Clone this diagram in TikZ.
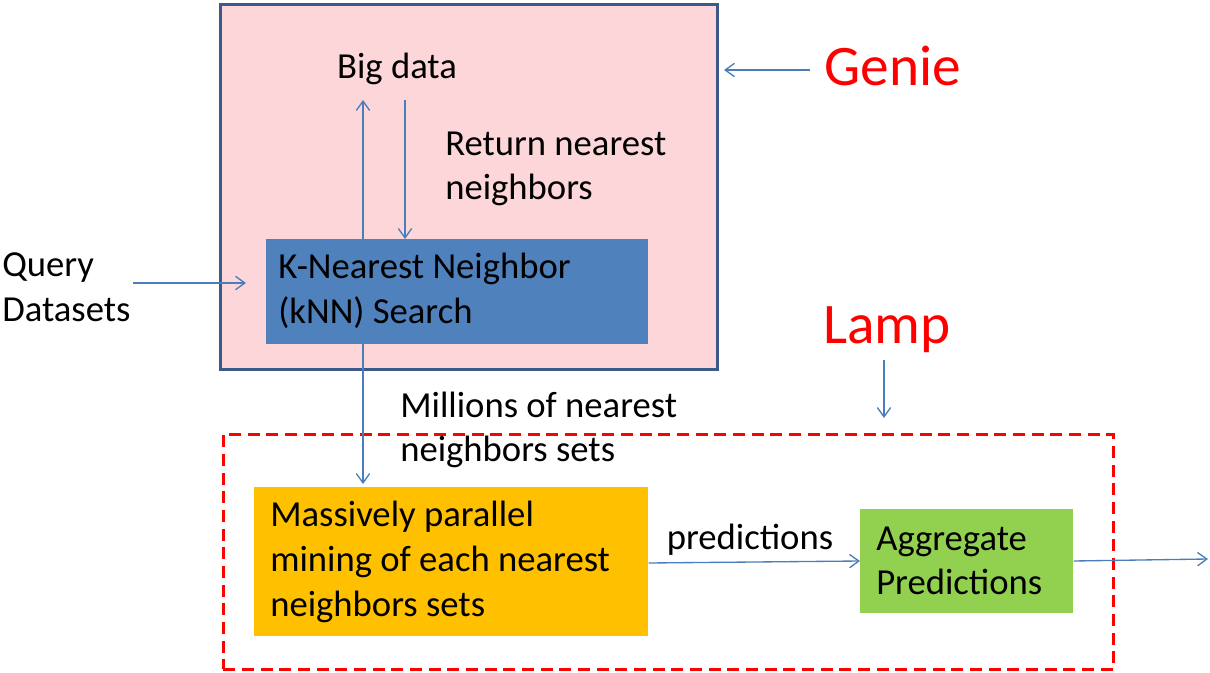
\documentclass[tikz,border=0pt]{standalone}
\usepackage{fontspec}
\setmainfont{Carlito}
\usetikzlibrary{arrows.meta}
\begin{document}
\begin{tikzpicture}[x=0.75pt,y=-0.75pt,
 txt/.style={font=\fontsize{27.5}{33.5}\selectfont,align=left,inner sep=0pt},
 big/.style={font=\fontsize{43}{46}\selectfont,text=red,inner sep=0pt},
 arr/.style={draw={rgb,255:red,74;green,126;blue,187},line width=1pt,-{Straight Barb[length=7pt,width=10pt]}},
 box/.style={draw=none,inner sep=0pt}]
\useasboundingbox (0,0) rectangle (1210,673);
\definecolor{genieb}{HTML}{3B5A8A}
\node[box,fill={rgb,255:red,252;green,214;blue,216},draw=genieb,line width=2.2pt,minimum width=372.75pt,minimum height=273.75pt,anchor=north west] (genie) at (219,3) {};
\node[txt] (bd) at (397,69) {Big data};
\node[box,fill={rgb,255:red,79;green,129;blue,189},minimum width=286.5pt,minimum height=78.75pt,anchor=north west] (knn) at (266,239) {};
\node[txt,anchor=west] (knnt) at (278,291) {K-Nearest Neighbor\\(kNN) Search};
\coordinate (u1) at (363,100); \coordinate (d1) at (405,100);
\draw[arr] (knn.north -| u1) -- (u1);
\draw[arr] (d1) -- (knn.north -| d1);
\node[txt,anchor=west] (ret) at (445,169) {Return nearest\\neighbors};
\node[txt,anchor=west] (q) at (2,287) {Query\\Datasets};
\coordinate (qa) at (133,283);
\draw[arr] (qa) -- (246,283) coordinate (qb);
\node[big] (gt) at (893,66) {Genie};
\coordinate (ga) at (810,70);
\draw[arr] (ga) -- (724,70);
\node[big] (lt) at (887,330) {Lamp};
\coordinate (la) at (884,360);
\draw[arr] (la) -- (884,418);
\node[box,draw=red,dash pattern=on 9pt off 5pt,line width=2.2pt,minimum width=667.5pt,minimum height=176.25pt,anchor=north west] (lamp) at (222,433) {};
\node[box,fill={rgb,255:red,255;green,192;blue,0},minimum width=295.5pt,minimum height=111.75pt,anchor=north west] (mine) at (254,487) {};
\node[txt,anchor=west] (minet) at (270,562) {Massively parallel\\mining of each nearest\\neighbors sets};
\coordinate (m1) at (363,344);
\draw[arr] (m1) -- (363,484);
\node[txt,anchor=west] (mil) at (400,430) {Millions of nearest\\neighbors sets};
\node[box,fill={rgb,255:red,146;green,208;blue,80},minimum width=159.75pt,minimum height=78pt,anchor=north west] (agg) at (860,509) {};
\node[txt,anchor=west] (aggt) at (876,561) {Aggregate\\Predictions};
\draw[arr] (mine.east |- 0,563) -- (agg.west |- 0,561);
\node[txt] (pred) at (750,540) {predictions};
\coordinate (out) at (1208,559);
\draw[arr] (agg.east |- 0,561) -- (out);
\end{tikzpicture}
\end{document}
